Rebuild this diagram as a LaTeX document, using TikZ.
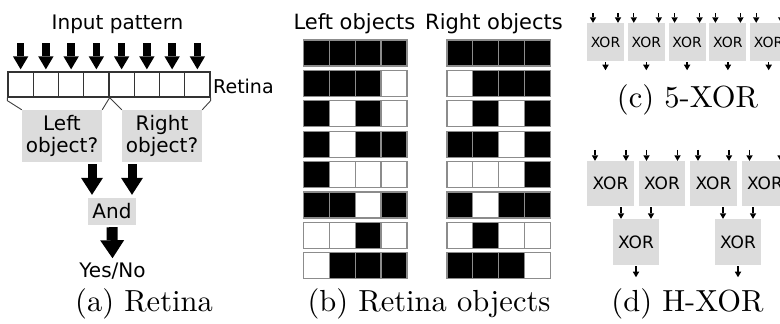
\documentclass[tikz,border=0pt]{standalone}
\usepackage{fontspec}
\newfontfamily\dvs{DejaVu Sans}
\newfontfamily\capfont{lmroman10-regular}[Extension=.otf]
\usetikzlibrary{arrows.meta,calc}
\definecolor{boxgray}{RGB}{220,220,220}
\definecolor{cellline}{RGB}{140,140,140}
\tikzset{
 sflab/.style={font=\dvs\fontsize{20}{22}\selectfont, inner sep=0pt},
 sfhead/.style={font=\dvs\fontsize{21}{24}\selectfont, inner sep=0pt, anchor=base},
 capt/.style={font=\capfont\fontsize{30.5}{36}\selectfont, inner sep=0pt, anchor=base},
 retcell/.style={draw=black!80, line width=1.3pt, minimum width=25.25pt, minimum height=25pt, inner sep=0pt},
 qbox/.style={fill=boxgray, inner sep=0pt, align=center, font=\dvs\fontsize{20}{22}\selectfont},
 xorc/.style={fill=boxgray, inner sep=0pt, minimum width=37pt, minimum height=38pt, font=\dvs\fontsize{14}{16}\selectfont},
 xord/.style={fill=boxgray, inner sep=0pt, minimum width=46.5pt, minimum height=45pt, font=\dvs\fontsize{17}{19}\selectfont},
 fatA/.style={line width=7.3pt, -{Triangle[width=15.4pt,length=13pt,line width=0pt]}},
 fatB/.style={line width=9pt, -{Triangle[width=22pt,length=17pt,line width=0pt]}},
 fatC/.style={line width=11pt, -{Triangle[width=24pt,length=18pt,line width=0pt]}},
 thinarr/.style={line width=1.3pt, -{Triangle[width=6.5pt,length=5.5pt,line width=0pt]}},
 brk/.style={draw=black!75, line width=0.9pt},
 objcell/.style={draw=cellline, line width=1.2pt},
}
\begin{document}
\begin{tikzpicture}[x=1pt,y=-1pt]
\useasboundingbox (0,0) rectangle (780,324);
\fill[white] (0,0) rectangle (780,324);
\clip (0,0) rectangle (780,324);

% ---------------- (a) Retina
\node[sflab, anchor=base] (inp) at (117.5,29) {Input pattern};
\foreach \i in {1,...,8}
  \node[retcell] (r\i) at ({8+25.25*(\i-0.5)},84.5) {};
\foreach \i in {1,...,8}
  \draw[fatA] (r\i.north |- 0,43) -- ($(r\i.north)+(0,-2)$);
\node[sflab, font=\dvs\fontsize{19}{21}\selectfont, anchor=base west] (retl) at (213,93) {Retina};

\node[qbox, minimum width=80pt, minimum height=52pt] (L) at (62,136) {Left\\object?};
\node[qbox, minimum width=80pt, minimum height=52pt] (R) at (162,136) {Right\\object?};
\draw[brk] (r1.south west) -- ++(0,3) -- (L.north west);
\draw[brk] (r4.south east) -- (L.north east);
\draw[brk] (r4.south east) -- (R.north west);
\draw[brk] (r8.south east) -- ++(0,3) -- (R.north east);

\node[qbox, minimum width=48pt, minimum height=27pt] (A) at (112,211.5) {And};
\node[sflab, anchor=base] (Y) at (112.5,277) {Yes/No};
\draw[fatB] ($(A.north |- L.south)+(-20,2)$) -- ($(A.north)+(-20,-3)$);
\draw[fatB] ($(A.north |- R.south)+(20,2)$) -- ($(A.north)+(20,-3)$);
\draw[fatC] ($(A.south)+(0,2)$) -- ($(Y.north)+(0,-4)$);
\node[capt] (capa) at (144,311) {(a) Retina};

% ---------------- (b) Retina objects
\node[sfhead] (lo) at (354.5,29) {Left objects};
\node[sfhead] (ro) at (494,29) {Right objects};
\foreach \r/\a/\b/\c/\d in {1/1/1/1/1,2/1/1/1/0,3/1/0/1/0,4/1/0/1/1,5/1/0/0/0,6/1/1/0/1,7/0/0/1/0,8/0/1/1/1}{
  \foreach \k/\v in {1/\a,2/\b,3/\c,4/\d}{
    \ifnum\v=1 \def\fc{black}\else\def\fc{white}\fi
    \filldraw[objcell, fill=\fc] ({303.3+25.9*(\k-1)},{40+30.4*(\r-1)}) rectangle ++(25.9,26);
  }
}
\foreach \r/\a/\b/\c/\d in {1/1/1/1/1,2/0/1/1/1,3/0/1/0/1,4/1/1/0/1,5/0/0/0/1,6/1/0/1/1,7/0/1/0/0,8/1/1/1/0}{
  \foreach \k/\v in {1/\a,2/\b,3/\c,4/\d}{
    \ifnum\v=1 \def\fc{black}\else\def\fc{white}\fi
    \filldraw[objcell, fill=\fc] ({446.9+25.9*(\k-1)},{40+30.4*(\r-1)}) rectangle ++(25.9,26);
  }
}
\node[capt] (capb) at (429,311) {(b) Retina objects};

% ---------------- (c) 5-XOR
\foreach \i in {1,...,5}{
  \node[xorc] (c\i) at ({605.5+40.8*(\i-1)},42) {XOR};
  \draw[thinarr] ($(c\i.north)+(-12.5,-9.5)$) -- ($(c\i.north)+(-12.5,0)$);
  \draw[thinarr] ($(c\i.north)+(12.5,-9.5)$) -- ($(c\i.north)+(12.5,0)$);
  \draw[thinarr] ($(c\i.south)+(0,1)$) -- ($(c\i.south)+(0,9)$);
}
\node[capt] (capc) at (687.5,107) {(c) 5-XOR};

% ---------------- (d) H-XOR
\foreach \i in {1,...,4}{
  \node[xord] (d\i) at ({610.5+51.5*(\i-1)},183.5) {XOR};
  \draw[thinarr] ($(d\i.north)+(-15.5,-11)$) -- ($(d\i.north)+(-15.5,0)$);
  \draw[thinarr] ($(d\i.north)+(15.5,-11)$) -- ($(d\i.north)+(15.5,0)$);
}
\node[xord, minimum width=46pt, minimum height=46pt] (e1) at (636,242) {XOR};
\node[xord, minimum width=46pt, minimum height=46pt] (e2) at (738,242) {XOR};
\draw[thinarr] ($(e1.north |- d1.south)+(-15,1)$) -- ($(e1.north)+(-15,0)$);
\draw[thinarr] ($(e1.north |- d2.south)+(15,1)$) -- ($(e1.north)+(15,0)$);
\draw[thinarr] ($(e2.north |- d3.south)+(-15,1)$) -- ($(e2.north)+(-15,0)$);
\draw[thinarr] ($(e2.north |- d4.south)+(15,1)$) -- ($(e2.north)+(15,0)$);
\draw[thinarr] ($(e1.south)+(0,1)$) -- ($(e1.south)+(0,12)$);
\draw[thinarr] ($(e2.south)+(0,1)$) -- ($(e2.south)+(0,12)$);
\node[capt] (capd) at (687.5,311) {(d) H-XOR};
\end{tikzpicture}
\end{document}
